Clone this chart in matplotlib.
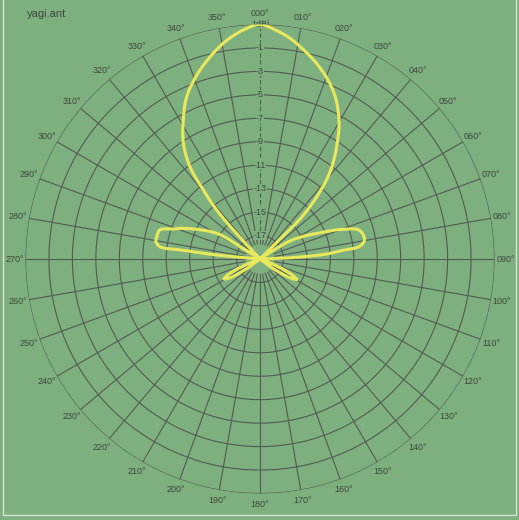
import numpy as np
import matplotlib
matplotlib.use('Agg')
import matplotlib.pyplot as plt
from matplotlib.patches import Rectangle

# antenna pattern (bearing in degrees, gain in dBi)
bearing = [-180, -135, -130, -126, -122, -119, -116, -112, -108, -100,
           -88, -86.5, -84.7, -83.5, -83, -80.5, -77.8, -73.8, -71, -68.2, -59.3, -58.4, -56.5,
           -50, -44, -42.6, -41.5, -39.4, -37.2, -33.5, -28.9, -24.3, -17.6, -9.7, -4.2,
           0, 3.9, 8.4, 17.1, 24.1, 29.6, 33.7, 38.5, 41.9, 44.8, 45.2, 46,
           52, 57.5, 59.5, 67.4, 70.2, 73.7, 77.9, 80.5, 82.9, 84, 85.8, 87.5, 89,
           100, 108, 112, 116, 119, 122, 126, 130, 135, 180]
gain = [-30, -30, -19, -17.6, -16.0, -15.5, -16.0, -17.6, -19, -30,
        -30, -19, -15.3, -12.4, -10.4, -10.0, -10.0, -10.1, -11.15, -11.95, -14.7, -17.0, -19,
        -30, -19, -15.64, -13.42, -11.38, -9.12, -7.16, -5.46, -3.81, -2.09, -0.34, 0.58,
        1.0, 0.57, -0.12, -1.84, -3.52, -5.36, -7.13, -9.3, -11.47, -13.9, -16.3, -30,
        -30, -19, -15.8, -12.94, -11.54, -10.2, -9.93, -10.0, -10.49, -11.9, -13.4, -16.2, -30,
        -30, -19, -17.6, -16.0, -15.4, -16.0, -17.6, -19, -30, -30]

ring_db = [1, -1, -3, -5, -7, -9, -11, -13, -15, -17]
ring_labels = ['1dBi', '-1', '-3', '-5', '-7', '-9', '-11', '-13', '-15', '-17']
spoke_deg = list(range(0, 360, 10))
title = 'yagi.ant'

RMIN, RMAX = -19, 1
bg = '#7eaf7e'
grid_c = '#545a54'
text_c = '#3f473f'
pat_c = '#e8e85c'
FONT = 'Liberation Sans'


def smooth_closed(theta, r, n=16):
    '''centripetal catmull-rom through the read points, done in x/y'''
    pts = np.column_stack([r * np.sin(theta), r * np.cos(theta)])
    out = [pts[0]]
    for i in range(len(pts) - 1):
        p0 = pts[i - 1] if i > 0 else pts[i]
        p1, p2 = pts[i], pts[i + 1]
        p3 = pts[i + 2] if i + 2 < len(pts) else pts[i + 1]
        d = lambda a, b: max(np.hypot(*(b - a)), 1e-6) ** 0.5
        t0 = 0.0
        t1 = t0 + d(p0, p1)
        t2 = t1 + d(p1, p2)
        t3 = t2 + d(p2, p3)
        t = np.linspace(t1, t2, n)[1:, None]
        a1 = (t1 - t) / (t1 - t0) * p0 + (t - t0) / (t1 - t0) * p1
        a2 = (t2 - t) / (t2 - t1) * p1 + (t - t1) / (t2 - t1) * p2
        a3 = (t3 - t) / (t3 - t2) * p2 + (t - t2) / (t3 - t2) * p3
        b1 = (t2 - t) / (t2 - t0) * a1 + (t - t0) / (t2 - t0) * a2
        b2 = (t3 - t) / (t3 - t1) * a2 + (t - t1) / (t3 - t1) * a3
        c = (t2 - t) / (t2 - t1) * b1 + (t - t1) / (t2 - t1) * b2
        out.extend(c)
    out = np.array(out)
    return np.arctan2(out[:, 0], out[:, 1]), np.hypot(out[:, 0], out[:, 1])


W, H = 519, 520
fig = plt.figure(figsize=(W / 100, H / 100), dpi=100, facecolor=bg)
cx, cy, R = 260, 259, 234.5
ax = fig.add_axes([(cx - R) / W, (H - cy - R) / H, 2 * R / W, 2 * R / H],
                  projection='polar', facecolor=bg)
ax.set_theta_zero_location('N')
ax.set_theta_direction(-1)
ax.set_rlim(RMIN, RMAX)
ax.grid(False)
ax.set_xticks([])
ax.set_yticks([])
ax.spines['polar'].set_visible(False)

# rings
th = np.linspace(0, 2 * np.pi, 721)
for r in ring_db:
    ax.plot(th, np.full_like(th, r), color=grid_c, lw=0.8, zorder=1)

# spokes
for d in spoke_deg:
    t = np.deg2rad(d)
    if d == 0:
        ax.plot([t, t], [-17.7, 1.2], color=grid_c, lw=0.8, ls=(0, (4, 2)), zorder=1)
    else:
        ax.plot([t, t], [-17.7, 1.2], color=grid_c, lw=0.8, zorder=1)
    ax.text(t, 1.95, '%03d°' % d, ha='center', va='center', fontsize=6.5,
            family=FONT, color=text_c, clip_on=False)

# ring labels on the 0 deg line
for r, lab in zip(ring_db, ring_labels):
    ax.text(0, r, lab, ha='center', va='center', fontsize=6.5, family=FONT,
            color=text_c, zorder=2,
            bbox=dict(facecolor=bg, edgecolor='none', pad=0.2))

# pattern
theta = np.deg2rad(bearing)
r = np.maximum(np.array(gain), RMIN) - RMIN
st, sr = smooth_closed(theta, r)
ax.plot(st, sr + RMIN, color=pat_c, lw=2.2, zorder=3, solid_joinstyle='round')

fig.text(27 / W, 1 - 14 / H, title, ha='left', va='center', fontsize=8,
         family=FONT, color=text_c)

fig.patches.append(Rectangle((3 / W, 5 / H), 513 / W, 530 / H, transform=fig.transFigure,
                             fill=False, edgecolor='#d8e2d8', lw=1))

fig.savefig('out.png', dpi=100, facecolor=bg)
